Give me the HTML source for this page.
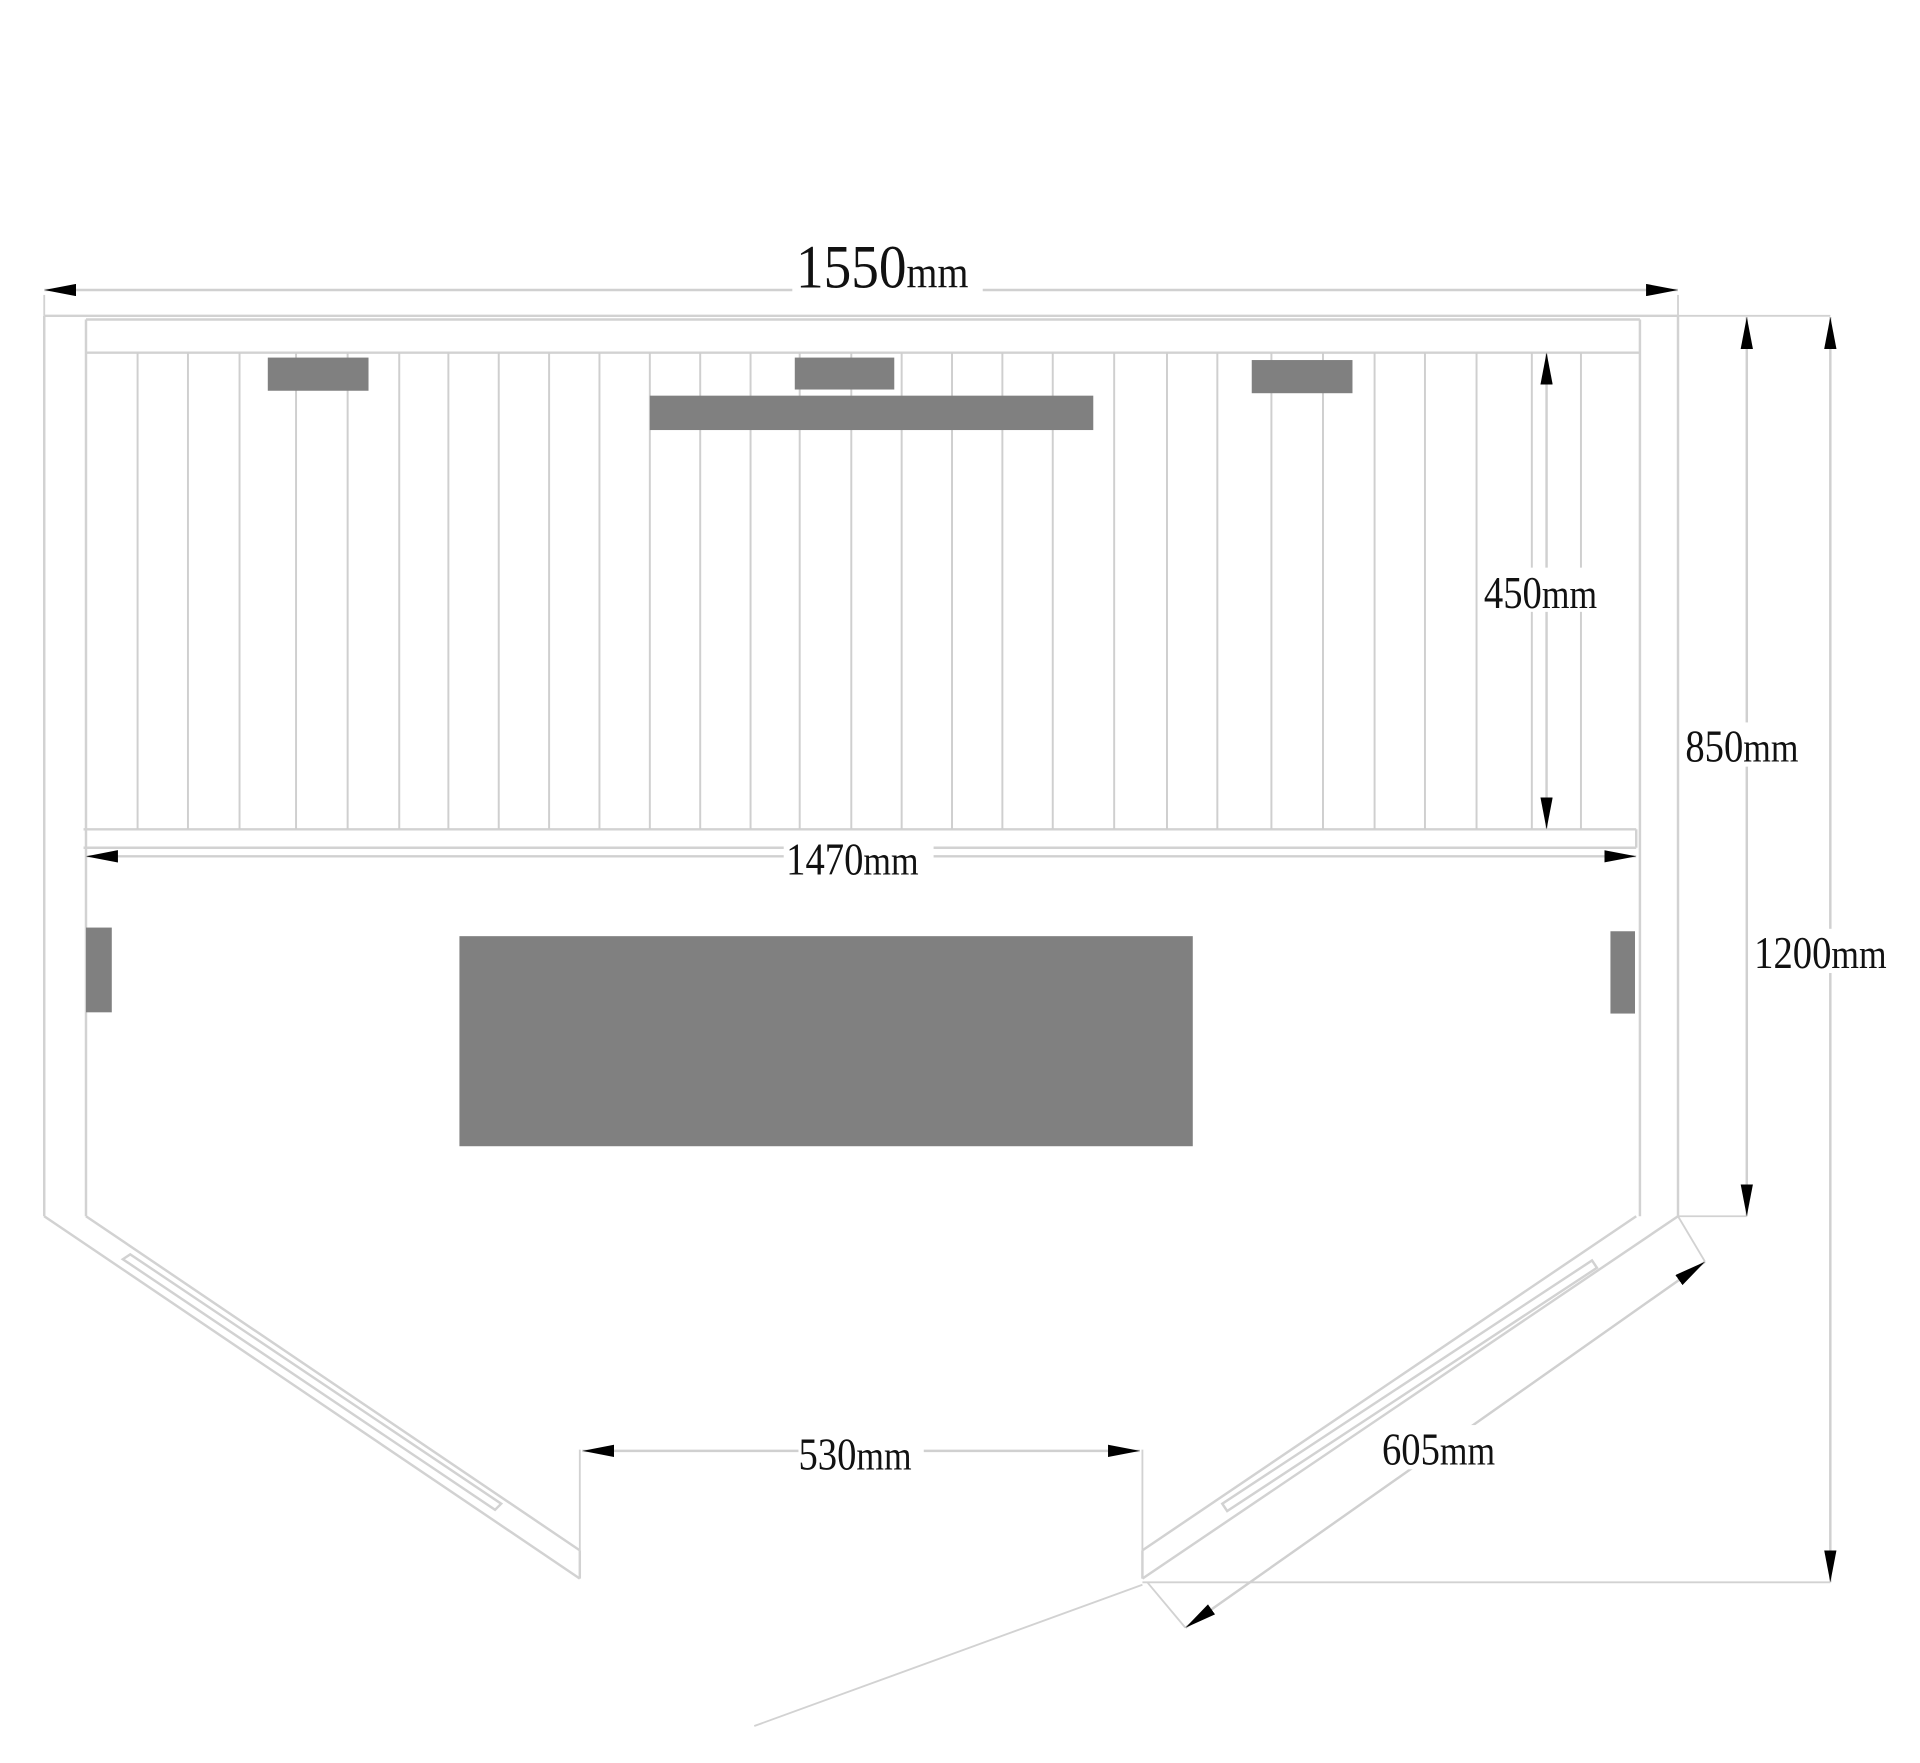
<!DOCTYPE html>
<html><head><meta charset="utf-8"><style>
html,body{margin:0;padding:0;background:#fff;}
svg{display:block;}
text{font-family:"Liberation Serif",serif;fill:#111;}
</style></head><body>
<svg width="1920" height="1763" viewBox="0 0 1563 1435" xmlns="http://www.w3.org/2000/svg">
<defs>
<marker id="a" viewBox="0 0 26 10" refX="26" refY="5" markerWidth="26" markerHeight="10" markerUnits="userSpaceOnUse" orient="auto-start-reverse">
<path d="M0,0 L26,5 L0,10 z" fill="#000"/>
</marker>
</defs>
<rect width="1563" height="1435" fill="#fff"/>
<g stroke="#d2d2d2" stroke-width="2" fill="none">
<line x1="36" y1="257" x2="1366" y2="257"/>
<line x1="36" y1="257" x2="36" y2="990"/>
<line x1="70" y1="260" x2="70" y2="990"/>
<line x1="1366" y1="257" x2="1366" y2="990"/>
<line x1="1335" y1="260" x2="1335" y2="990"/>
<line x1="70" y1="260" x2="1335" y2="260"/>
<line x1="70" y1="287" x2="1335" y2="287"/>
<line x1="68" y1="675" x2="1332" y2="675"/>
<line x1="68" y1="690" x2="1332" y2="690"/>
<line x1="1332" y1="675" x2="1332" y2="690"/>
<g stroke="#cfcfcf" stroke-width="1.6">
<line x1="112" y1="287" x2="112" y2="675"/><line x1="153" y1="287" x2="153" y2="675"/>
<line x1="195" y1="287" x2="195" y2="675"/><line x1="241" y1="287" x2="241" y2="675"/>
<line x1="283" y1="287" x2="283" y2="675"/><line x1="325" y1="287" x2="325" y2="675"/>
<line x1="365" y1="287" x2="365" y2="675"/><line x1="406" y1="287" x2="406" y2="675"/>
<line x1="447" y1="287" x2="447" y2="675"/><line x1="488" y1="287" x2="488" y2="675"/>
<line x1="529" y1="287" x2="529" y2="675"/><line x1="570" y1="287" x2="570" y2="675"/>
<line x1="611" y1="287" x2="611" y2="675"/><line x1="651" y1="287" x2="651" y2="675"/>
<line x1="693" y1="287" x2="693" y2="675"/><line x1="734" y1="287" x2="734" y2="675"/>
<line x1="775" y1="287" x2="775" y2="675"/><line x1="816" y1="287" x2="816" y2="675"/>
<line x1="857" y1="287" x2="857" y2="675"/><line x1="907" y1="287" x2="907" y2="675"/>
<line x1="950" y1="287" x2="950" y2="675"/><line x1="991" y1="287" x2="991" y2="675"/>
<line x1="1035" y1="287" x2="1035" y2="675"/><line x1="1077" y1="287" x2="1077" y2="675"/>
<line x1="1119" y1="287" x2="1119" y2="675"/><line x1="1160" y1="287" x2="1160" y2="675"/>
<line x1="1202" y1="287" x2="1202" y2="675"/><line x1="1247" y1="287" x2="1247" y2="675"/>
<line x1="1287" y1="287" x2="1287" y2="675"/>
</g>
<line x1="36" y1="990" x2="472" y2="1285"/>
<line x1="70" y1="990" x2="472" y2="1262"/>
<line x1="472" y1="1262" x2="472" y2="1285"/>
<polygon points="100,1025 106,1021 408,1224 403,1229"/>
<line x1="1366" y1="990" x2="930" y2="1285"/>
<line x1="1332" y1="990" x2="930" y2="1262"/>
<line x1="930" y1="1262" x2="930" y2="1285"/>
<polygon points="1296,1026 1300,1032 999,1230 995,1224"/>
<line x1="1366" y1="257" x2="1490" y2="257" stroke-width="1.5"/>
<line x1="1366" y1="990" x2="1422" y2="990" stroke-width="1.5"/>
<line x1="930" y1="1288" x2="1490" y2="1288" stroke-width="1.5"/>
<line x1="472" y1="1180" x2="472" y2="1262" stroke-width="1.5"/>
<line x1="930" y1="1180" x2="930" y2="1262" stroke-width="1.5"/>
<line x1="1366" y1="990" x2="1388" y2="1027" stroke-width="1.5"/>
<line x1="934" y1="1288" x2="965" y2="1325" stroke-width="1.5"/>
<line x1="930" y1="1290" x2="614" y2="1405" stroke-width="1.5"/>
<line x1="1366" y1="240" x2="1366" y2="257" stroke-width="1.5"/>
<line x1="36" y1="240" x2="36" y2="257" stroke-width="1.5"/>
</g>
<g fill="#808080">
<rect x="218" y="291" width="82" height="27"/>
<rect x="647" y="291" width="81" height="26"/>
<rect x="1019" y="293" width="82" height="27"/>
<rect x="529" y="322" width="361" height="28"/>
<rect x="70" y="755" width="21" height="69"/>
<rect x="1311" y="758" width="20" height="67"/>
<rect x="374" y="762" width="597" height="171"/>
</g>
<g stroke="#d0d0d0" stroke-width="2" fill="none">
<line x1="36" y1="236" x2="1366" y2="236" marker-start="url(#a)" marker-end="url(#a)"/>
<line x1="70" y1="697" x2="1332" y2="697" marker-start="url(#a)" marker-end="url(#a)"/>
<line x1="1259" y1="287" x2="1259" y2="675" marker-start="url(#a)" marker-end="url(#a)"/>
<line x1="1422" y1="258" x2="1422" y2="990" marker-start="url(#a)" marker-end="url(#a)"/>
<line x1="1490" y1="258" x2="1490" y2="1288" marker-start="url(#a)" marker-end="url(#a)"/>
<line x1="474" y1="1181" x2="928" y2="1181" marker-start="url(#a)" marker-end="url(#a)"/>
<line x1="1388" y1="1027" x2="965" y2="1325" marker-start="url(#a)" marker-end="url(#a)"/>
</g>
<g>
<rect x="645" y="190" width="155" height="50" fill="#fff"/>
<text x="648" y="234" font-size="50" transform="translate(648 0) scale(0.9 1) translate(-648 0)">1550<tspan font-size="36">mm</tspan></text>
<rect x="638" y="680" width="122" height="36" fill="#fff"/>
<text x="640" y="712" font-size="37" transform="translate(640 0) scale(0.85 1) translate(-640 0)">1470<tspan font-size="34">mm</tspan></text>
<rect x="1208" y="462" width="102" height="36" fill="#fff"/>
<text x="1208" y="495" font-size="37" transform="translate(1208 0) scale(0.85 1) translate(-1208 0)">450<tspan font-size="34">mm</tspan></text>
<rect x="1372" y="588" width="102" height="36" fill="#fff"/>
<text x="1372" y="620" font-size="37" transform="translate(1372 0) scale(0.85 1) translate(-1372 0)">850<tspan font-size="34">mm</tspan></text>
<rect x="1428" y="756" width="122" height="36" fill="#fff"/>
<text x="1428" y="788" font-size="37" transform="translate(1428 0) scale(0.85 1) translate(-1428 0)">1200<tspan font-size="34">mm</tspan></text>
<rect x="650" y="1162" width="102" height="36" fill="#fff"/>
<text x="650" y="1196" font-size="37" transform="translate(650 0) scale(0.85 1) translate(-650 0)">530<tspan font-size="34">mm</tspan></text>
<rect x="1125" y="1160" width="102" height="36" fill="#fff"/>
<text x="1125" y="1192" font-size="37" transform="translate(1125 0) scale(0.85 1) translate(-1125 0)">605<tspan font-size="34">mm</tspan></text>
</g>
</svg>
</body></html>
